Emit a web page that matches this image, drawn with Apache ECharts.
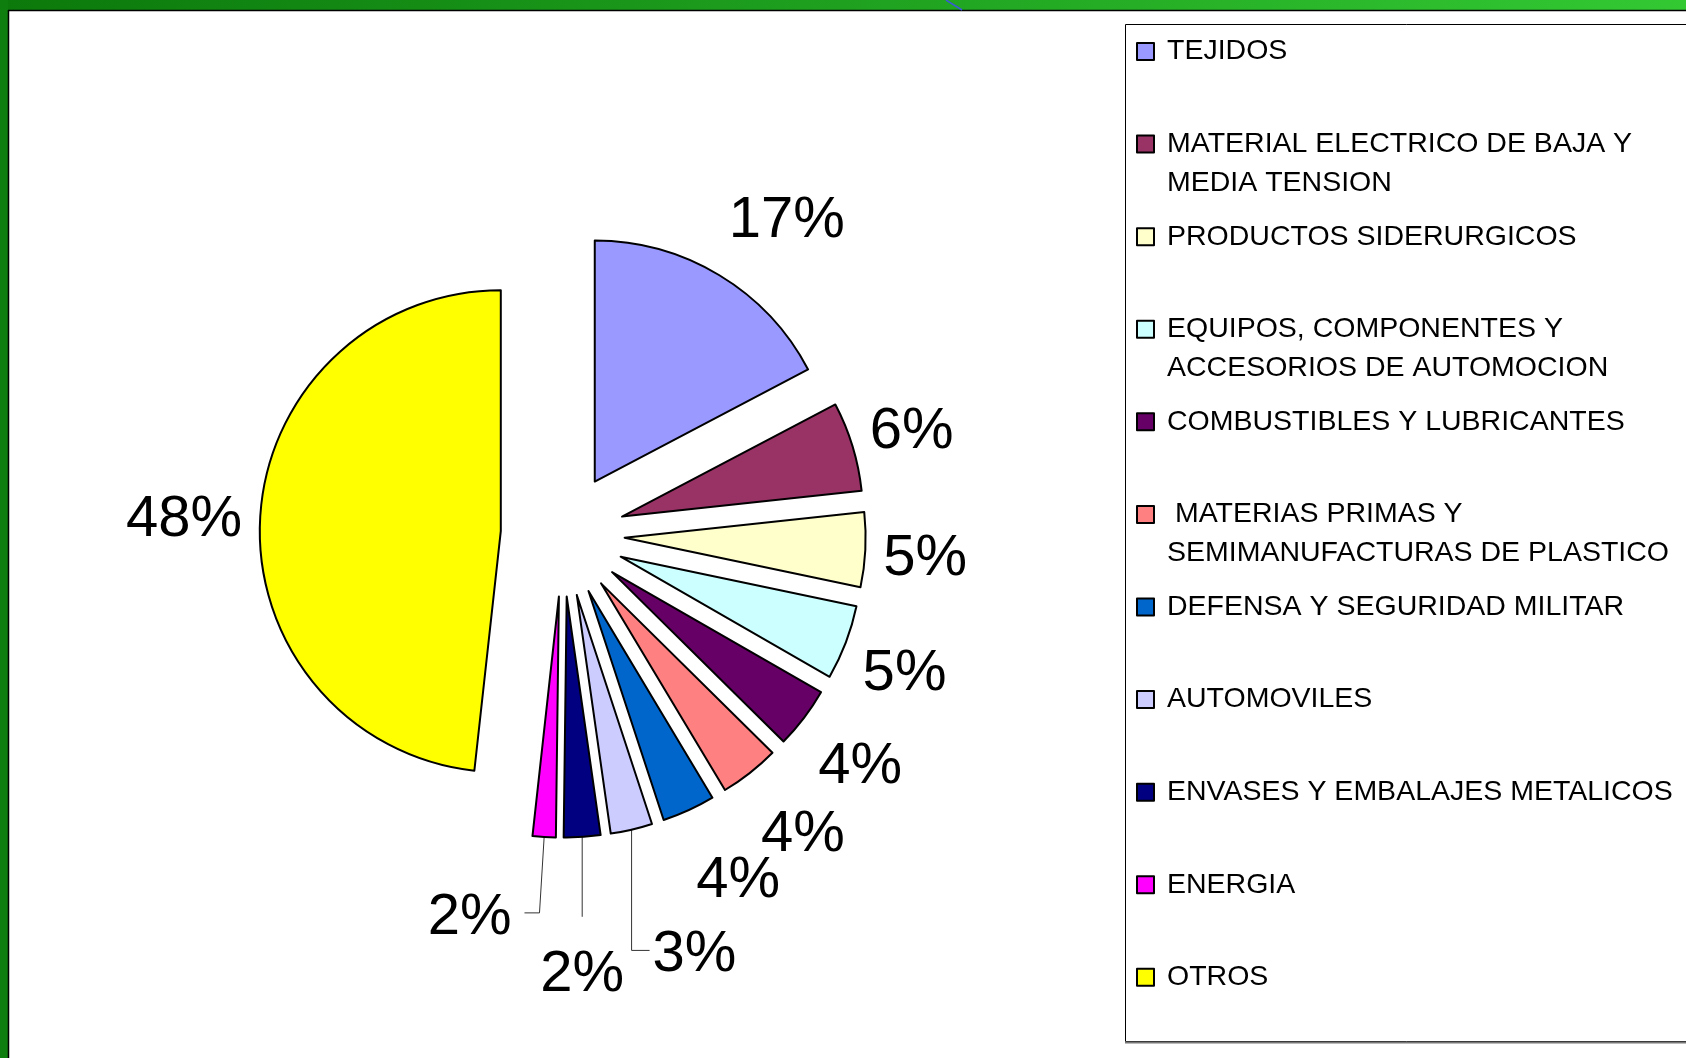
<!DOCTYPE html>
<html>
<head>
<meta charset="utf-8">
<script src="https://cdn.jsdelivr.net/npm/echarts@6/dist/echarts.min.js"></script>
<style>
html,body{margin:0;padding:0;background:#fff;}
#c{width:1686px;height:1058px;}
</style>
</head>
<body>
<div id="c"></div>
<script>
// ---- data ----
const categories = [
  'TEJIDOS',
  'MATERIAL ELECTRICO DE BAJA Y MEDIA TENSION',
  'PRODUCTOS SIDERURGICOS',
  'EQUIPOS, COMPONENTES Y ACCESORIOS DE AUTOMOCION',
  'COMBUSTIBLES Y LUBRICANTES',
  'MATERIAS PRIMAS Y SEMIMANUFACTURAS DE PLASTICO',
  'DEFENSA Y SEGURIDAD MILITAR',
  'AUTOMOVILES',
  'ENVASES Y EMBALAJES METALICOS',
  'ENERGIA',
  'OTROS'
];
const values = [17.3, 6.0, 5.0, 5.0, 4.1, 4.0, 3.55, 2.8, 2.45, 1.55, 48.25];
const legendLabels = [
  'TEJIDOS',
  'MATERIAL ELECTRICO DE BAJA Y\nMEDIA TENSION',
  'PRODUCTOS SIDERURGICOS',
  'EQUIPOS, COMPONENTES Y\nACCESORIOS DE AUTOMOCION',
  'COMBUSTIBLES Y LUBRICANTES',
  ' MATERIAS PRIMAS Y\nSEMIMANUFACTURAS DE PLASTICO',
  'DEFENSA Y SEGURIDAD MILITAR',
  'AUTOMOVILES',
  'ENVASES Y EMBALAJES METALICOS',
  'ENERGIA',
  'OTROS'
];

// ---- styles ----
const colors = ['#9999FF','#993366','#FFFFCC','#CCFFFF','#660066','#FF8080','#0066CC','#CCCCFF','#000080','#FF00FF','#FFFF00'];
// leader line styling for the small slices; null = no leader line
const leaderStyle = [
  null, null, null, null, null, null, null,
  {len: 124, len2: 18, vertical: true, gap: 0},
  {len: 80, len2: 0, vertical: true, gap: 0},
  {len: 76, len2: 15, vertical: false, gap: 10},
  null
];
const FONT = '"Liberation Sans", Arial, sans-serif';
const LEG_LH = 38.7;
const LABEL_DIST = 3;

const chart = echarts.init(document.getElementById('c'), null, {renderer: 'canvas'});

const legends = categories.map((n, i) => {
  const lines = legendLabels[i].split('\n').length;
  // an empty leading line per extra line keeps the icon level with the first text line
  const shown = '\n'.repeat(lines - 1) + legendLabels[i];
  const block = LEG_LH * (2 * lines - 1);
  const yc = 51.5 + i * 92.58;
  return {
    data: [n],
    orient: 'vertical',
    left: 1136,
    top: yc - block / 2,
    padding: 0,
    itemWidth: 17,
    itemHeight: 17,
    icon: 'rect',
    selectedMode: false,
    formatter: () => shown,
    itemStyle: {borderColor: '#000', borderWidth: 2},
    textStyle: {
      fontSize: 28.5, lineHeight: LEG_LH, fontFamily: FONT, color: '#000',
      padding: [0, 0, 0, 8]
    }
  };
});

function clamp(v, a, b) { return Math.max(a, Math.min(b, v)); }

const option = {
  animation: false,
  backgroundColor: '#fff',
  legend: legends,
  graphic: [
    {type: 'rect', silent: true, shape: {x: 0, y: 0, width: 1686, height: 10},
     style: {fill: new echarts.graphic.LinearGradient(0, 0, 1, 0, [{offset: 0, color: '#0b790b'}, {offset: 1, color: '#33c933'}])}},
    {type: 'rect', silent: true, shape: {x: 0, y: 0, width: 8, height: 1058}, style: {fill: '#0e7e0e'}},
    {type: 'line', silent: true, shape: {x1: 8, y1: 10.5, x2: 1686, y2: 10.5}, style: {stroke: '#000', lineWidth: 1.5}},
    {type: 'line', silent: true, shape: {x1: 8.5, y1: 10, x2: 8.5, y2: 1058}, style: {stroke: '#000', lineWidth: 1.5}},
    {type: 'line', silent: true, shape: {x1: 946, y1: 0, x2: 962, y2: 10}, style: {stroke: '#3a5ad8', lineWidth: 1.5}},
    {type: 'rect', silent: true, shape: {x: 1125.5, y: 24.5, width: 600, height: 1017}, style: {fill: 'none', stroke: '#000', lineWidth: 1}},
    {type: 'line', silent: true, shape: {x1: 1125, y1: 1042.5, x2: 1686, y2: 1042.5}, style: {stroke: '#777', lineWidth: 2}}
  ],
  series: [{
    type: 'pie',
    center: [562.7, 534.6],
    radius: 241,
    startAngle: 90,
    clockwise: true,
    selectedMode: 'multiple',
    selectedOffset: 62,
    avoidLabelOverlap: false,
    silent: true,
    percentPrecision: 0,
    itemStyle: {borderColor: '#000', borderWidth: 2},
    select: {itemStyle: {borderColor: '#000', borderWidth: 2}},
    label: {
      show: true, position: 'outside', formatter: '{d}%',
      fontSize: 58, lineHeight: 66, color: '#000', fontFamily: FONT,
      distanceToLabelLine: LABEL_DIST
    },
    labelLine: {show: false, length: 18, length2: 0, lineStyle: {color: '#333', width: 1}},
    labelLayout: function (p) {
      const i = p.dataIndex;
      const pts = p.labelLinePoints;
      if (!pts || pts.length < 2) return {dy: 6};
      const vx = pts[1][0] - pts[0][0], vy = pts[1][1] - pts[0][1];
      const len = Math.hypot(vx, vy) || 1;
      const s = vx / len, c = -vy / len;
      const sgn = s < 0 ? -1 : 1;
      const st = leaderStyle[i];
      const ret = {};
      let dxExtra = 0;
      if (st && st.vertical) {
        // leader drops straight down from the slice edge, then runs horizontally
        const p0 = pts[0];
        const yEnd = pts[1][1];
        const xEnd = p0[0] + sgn * st.len2;
        ret.labelLinePoints = [[p0[0], p0[1]], [p0[0], yEnd], [xEnd, yEnd]];
        dxExtra = xEnd - pts[pts.length - 1][0];
      }
      if (st && st.len2 > 0) {
        ret.dx = dxExtra + sgn * (st.gap || 0);
        ret.dy = 5;
        return ret;
      }
      const hs = sgn * clamp((Math.abs(s) - 0.1) * 3.5, 0, 1);
      const w = p.labelRect.width;
      ret.dx = dxExtra + hs * w / 2 - sgn * (LABEL_DIST + w / 2);
      ret.dy = -c * p.labelRect.height * 0.8 + 6;
      return ret;
    },
    data: categories.map((n, i) => {
      const d = {
        name: n, value: values[i], selected: true,
        itemStyle: {color: colors[i]},
        select: {itemStyle: {color: colors[i]}}
      };
      const st = leaderStyle[i];
      if (st) {
        d.labelLine = {show: true, length: st.len, length2: st.len2};
      }
      return d;
    })
  }]
};
chart.setOption(option);
</script>
</body>
</html>
